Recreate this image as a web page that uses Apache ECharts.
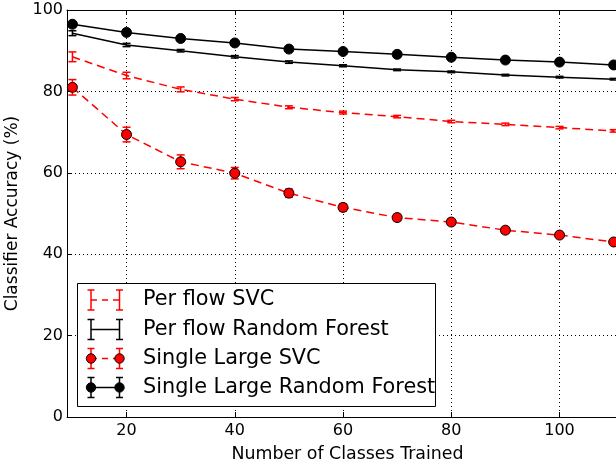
<!DOCTYPE html>
<html>
<head>
<meta charset="utf-8">
<script src="https://cdn.jsdelivr.net/npm/echarts@6/dist/echarts.min.js"></script>
<style>
html,body{margin:0;padding:0;background:#fff;}
#chart{width:616px;height:465px;}
</style>
</head>
<body>
<div id="chart"></div>
<script>
var classes = [10, 20, 30, 40, 50, 60, 70, 80, 90, 100, 110];
var seriesNames = ['Per flow SVC', 'Per flow Random Forest', 'Single Large SVC', 'Single Large Random Forest'];
var perFlowSvc    = [88.5, 83.9, 80.5, 78.1, 76.1, 74.8, 73.8, 72.6, 71.9, 71.1, 70.3];
var perFlowSvcErr = [1.2, 0.8, 0.6, 0.4, 0.35, 0.35, 0.3, 0.3, 0.3, 0.3, 0.3];
var perFlowRf     = [94.3, 91.4, 90.0, 88.5, 87.2, 86.3, 85.3, 84.8, 84.0, 83.5, 83.0];
var perFlowRfErr  = [0.6, 0.4, 0.3, 0.3, 0.3, 0.25, 0.2, 0.2, 0.2, 0.2, 0.2];
var singleSvc     = [81.0, 69.4, 62.7, 59.9, 55.0, 51.5, 49.0, 47.9, 45.9, 44.7, 43.0];
var singleSvcErr  = [1.9, 1.8, 1.7, 1.4, 1.0, 0.9, 0.8, 0.7, 0.7, 0.6, 0.6];
var singleRf      = [96.5, 94.5, 93.0, 91.9, 90.4, 89.8, 89.1, 88.4, 87.7, 87.2, 86.5];
var singleRfErr   = [0.5, 0.4, 0.4, 0.3, 0.3, 0.3, 0.3, 0.3, 0.3, 0.3, 0.3];
var yTicks = [0, 20, 40, 60, 80, 100];

var FONT = 'DejaVu Sans';
var RED = '#ff0000';

function pts(vals) { return classes.map(function (c, i) { return [c, vals[i]]; }); }
function errPts(vals, errs) { return classes.map(function (c, i) { return [c, vals[i] - errs[i], vals[i] + errs[i]]; }); }

function errSeries(vals, errs, color, z) {
  return {
    type: 'custom',
    z: z,
    clip: true,
    data: errPts(vals, errs),
    renderItem: function (params, api) {
      var x = api.value(0);
      var p1 = api.coord([x, api.value(1)]);
      var p2 = api.coord([x, api.value(2)]);
      var w = 4;
      var st = { stroke: color, lineWidth: 1.5 };
      return {
        type: 'group',
        children: [
          { type: 'line', shape: { x1: p1[0], y1: p1[1], x2: p2[0], y2: p2[1] }, style: st },
          { type: 'line', shape: { x1: p1[0] - w, y1: p1[1], x2: p1[0] + w, y2: p1[1] }, style: st },
          { type: 'line', shape: { x1: p2[0] - w, y1: p2[1], x2: p2[0] + w, y2: p2[1] }, style: st }
        ]
      };
    }
  };
}

// legend drawn as graphic
var legendX = 77, legendY = 283, legendW = 358, legendH = 123;
var rowY = [300, 329.5, 358.5, 387.5];
var symL = 91, symR = 119.5, textX = 143;
var legendStyles = [
  { color: RED, dash: [6, 5], marker: false, fill: null },
  { color: '#000', dash: null, marker: false, fill: null },
  { color: RED, dash: [6, 5], marker: true, fill: RED },
  { color: '#000', dash: null, marker: true, fill: '#000' }
];
var legendEls = [{
  type: 'rect', shape: { x: legendX + 0.5, y: legendY + 0.5, width: legendW, height: legendH },
  style: { fill: '#fff', stroke: '#000', lineWidth: 1 }, z: 100
}];
seriesNames.forEach(function (name, i) {
  var y = rowY[i], s = legendStyles[i];
  var lineStyle = { stroke: s.color, lineWidth: 1.5 };
  if (s.dash) lineStyle.lineDash = s.dash;
  legendEls.push({ type: 'line', z: 101, shape: { x1: symL, y1: y, x2: symR, y2: y }, style: lineStyle });
  [symL, symR].forEach(function (x) {
    var st = { stroke: s.color, lineWidth: 1.5 };
    legendEls.push({ type: 'line', z: 102, shape: { x1: x, y1: y - 10, x2: x, y2: y + 10 }, style: st });
    legendEls.push({ type: 'line', z: 102, shape: { x1: x - 3.5, y1: y - 10, x2: x + 3.5, y2: y - 10 }, style: st });
    legendEls.push({ type: 'line', z: 102, shape: { x1: x - 3.5, y1: y + 10, x2: x + 3.5, y2: y + 10 }, style: st });
    if (s.marker) {
      legendEls.push({ type: 'circle', z: 103, shape: { cx: x, cy: y, r: 4.7 }, style: { fill: s.fill, stroke: '#000', lineWidth: 1 } });
    }
  });
  legendEls.push({
    type: 'text', z: 103, x: textX, y: y,
    style: { text: name, fill: '#000', font: '20.8px "DejaVu Sans"', verticalAlign: 'middle', align: 'left' }
  });
});

var chart = echarts.init(document.getElementById('chart'), null, { renderer: 'canvas' });
var option = {
  animation: false,
  backgroundColor: '#fff',
  grid: { left: 67, right: -12, top: 10, bottom: 48, containLabel: false, outerBoundsMode: 'none' },
  xAxis: [{
    type: 'value', min: 9, max: 112.65, minInterval: 20, maxInterval: 20,
    name: 'Number of Classes Trained', nameLocation: 'middle', nameGap: 29,
    nameTextStyle: { fontFamily: FONT, fontSize: 17.4, color: '#000' },
    axisLine: { show: true, lineStyle: { color: '#000', width: 1 } },
    axisTick: { show: true, inside: true, length: 5, lineStyle: { color: '#000' } },
    axisLabel: { show: true, margin: 6, fontFamily: FONT, fontSize: 16, color: '#000', showMinLabel: false, showMaxLabel: false,
      formatter: function (v) { return (v % 20 === 0) ? String(v) : ''; } },
    splitLine: { show: true, lineStyle: { color: '#000', type: [1, 3], width: 1 } }
  }, {
    type: 'value', position: 'top', min: 9, max: 112.65, minInterval: 20, maxInterval: 20,
    axisLine: { show: true, onZero: false, lineStyle: { color: '#000', width: 1 } },
    axisTick: { show: true, inside: true, length: 5, lineStyle: { color: '#000' } },
    axisLabel: { show: false },
    splitLine: { show: false }
  }],
  yAxis: [{
    type: 'value', min: yTicks[0], max: yTicks[yTicks.length - 1], interval: 20,
    name: 'Classifier Accuracy (%)', nameLocation: 'middle', nameGap: 43,
    nameTextStyle: { fontFamily: FONT, fontSize: 17, color: '#000' },
    axisLine: { show: true, lineStyle: { color: '#000', width: 1 } },
    axisTick: { show: true, inside: true, length: 5, lineStyle: { color: '#000' } },
    axisLabel: { show: true, margin: 4, fontFamily: FONT, fontSize: 16, color: '#000' },
    splitLine: { show: true, lineStyle: { color: '#000', type: [1, 3], width: 1 } }
  }],
  graphic: { elements: legendEls },
  series: [
    { name: seriesNames[0], type: 'line', data: pts(perFlowSvc), z: 3, symbol: 'none',
      lineStyle: { color: RED, width: 1.5, type: [8, 5] } },
    errSeries(perFlowSvc, perFlowSvcErr, RED, 4),
    { name: seriesNames[1], type: 'line', data: pts(perFlowRf), z: 5, symbol: 'none',
      lineStyle: { color: '#000', width: 1.5 } },
    errSeries(perFlowRf, perFlowRfErr, '#000', 6),
    { name: seriesNames[2], type: 'line', data: pts(singleSvc), z: 7, symbol: 'circle', symbolSize: 10,
      itemStyle: { color: RED, borderColor: '#000', borderWidth: 1 },
      lineStyle: { color: RED, width: 1.5, type: [8, 5] } },
    errSeries(singleSvc, singleSvcErr, RED, 6.5),
    { name: seriesNames[3], type: 'line', data: pts(singleRf), z: 9, symbol: 'circle', symbolSize: 10,
      itemStyle: { color: '#000', borderColor: '#000', borderWidth: 1 },
      lineStyle: { color: '#000', width: 1.5 } },
    errSeries(singleRf, singleRfErr, '#000', 8.5)
  ]
};
chart.setOption(option);
</script>
</body>
</html>
